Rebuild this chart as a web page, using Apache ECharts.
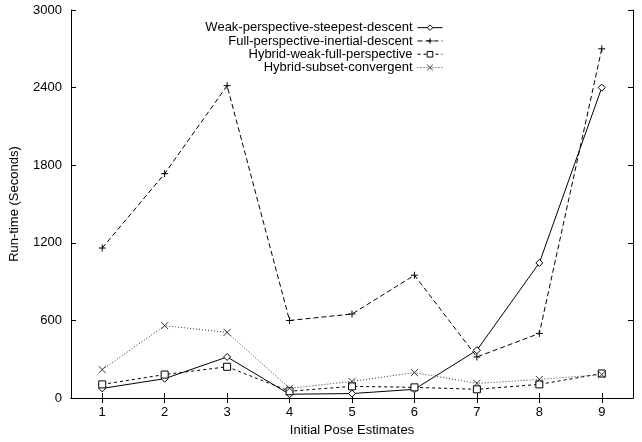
<!DOCTYPE html>
<html><head><meta charset="utf-8">
<script src="https://cdn.jsdelivr.net/npm/echarts@6/dist/echarts.min.js"></script>
<style>html,body{margin:0;padding:0;background:#fff}#c{width:642px;height:442px}</style>
</head><body><div id="c"></div>
<script>
const categories = ['1','2','3','4','5','6','7','8','9'];
const yTicks = [0, 600, 1200, 1800, 2400, 3000];
const weakSteepest = [75, 150, 318, 30, 35, 68, 370, 1045, 2400];
const fullInertial = [1160, 1735, 2415, 600, 650, 950, 318, 500, 2700];
const hybridWeakFull = [106, 182, 242, 53, 91, 83, 68, 106, 190];
const hybridSubset = [220, 560, 508, 76, 129, 197, 114, 144, 182];
const seriesNames = ['Weak-perspective-steepest-descent','Full-perspective-inertial-descent','Hybrid-weak-full-perspective','Hybrid-subset-convergent'];

const font = 'Liberation Sans, Arial, Helvetica, sans-serif';
const plusPath = 'path://M0,5 L10,5 M5,0 L5,10';
const crossPath = 'path://M0,0 L10,10 M10,0 L0,10';
function mk(name, data, type, sym, size, color, fill) {
  return {
    name, type: 'line', data, xAxisIndex: 0, yAxisIndex: 0,
    symbol: sym, symbolSize: size, showSymbol: true, showAllSymbol: true,
    lineStyle: { color: color, width: 1, type: type },
    itemStyle: { color: fill, borderColor: color, borderWidth: 1 },
    emphasis: { disabled: true }, animation: false
  };
}
const chart = echarts.init(document.getElementById('c'), null, { renderer: 'canvas' });
const axisCommon = {
  axisLine: { show: true, lineStyle: { color: '#000', width: 1 } },
  axisTick: { show: true, inside: true, length: 5, lineStyle: { color: '#000' } },
  splitLine: { show: false }
};
chart.setOption({
  animation: false,
  textStyle: { fontFamily: font },
  grid: { left: 71, right: 9, top: 10, bottom: 36 },
  legend: {
    data: seriesNames, orient: 'vertical', align: 'right',
    right: 194, top: 16, itemWidth: 25, itemHeight: 7, itemGap: 0,
    lineStyle: { width: 1 }, itemStyle: { borderWidth: 1 },
    textStyle: { fontFamily: font, fontSize: 13, lineHeight: 13.3, color: '#000', padding: [0, 0, 0, 0] },
    selectedMode: false
  },
  xAxis: [
    Object.assign({}, axisCommon, {
      type: 'category', data: categories, position: 'bottom', boundaryGap: true,
      axisTick: { show: true, inside: true, length: 5, alignWithLabel: true, lineStyle: { color: '#000' } },
      axisLabel: { color: '#000', fontSize: 13, fontFamily: font, margin: 8 },
      name: 'Initial Pose Estimates', nameLocation: 'middle', nameGap: 20,
      nameTextStyle: { color: '#000', fontSize: 13, fontFamily: font }
    }),
    Object.assign({}, axisCommon, {
      type: 'category', data: categories, position: 'top', boundaryGap: true,
      axisTick: { show: true, inside: true, length: 5, alignWithLabel: true, lineStyle: { color: '#000' } },
      axisLabel: { show: false }
    })
  ],
  yAxis: [
    Object.assign({}, axisCommon, {
      type: 'value', min: yTicks[0], max: yTicks[yTicks.length - 1], interval: 600, position: 'left',
      axisLabel: { color: '#000', fontSize: 13, fontFamily: font, margin: 9, formatter: v => String(v) },
      name: 'Run-time (Seconds)', nameLocation: 'middle', nameGap: 50, nameRotate: 90,
      nameTextStyle: { color: '#000', fontSize: 13, fontFamily: font }
    }),
    Object.assign({}, axisCommon, {
      type: 'value', min: yTicks[0], max: yTicks[yTicks.length - 1], interval: 600, position: 'right',
      axisLabel: { show: false }
    })
  ],
  series: [
    mk(seriesNames[0], weakSteepest, 'solid', 'diamond', 7, '#000', '#fff'),
    mk(seriesNames[1], fullInertial, [5, 3], plusPath, 7, '#000', '#000'),
    mk(seriesNames[2], hybridWeakFull, [3, 3], 'rect', 7, '#000', '#fff'),
    mk(seriesNames[3], hybridSubset, [1, 2], crossPath, 7, '#333', '#333')
  ]
});
</script></body></html>
